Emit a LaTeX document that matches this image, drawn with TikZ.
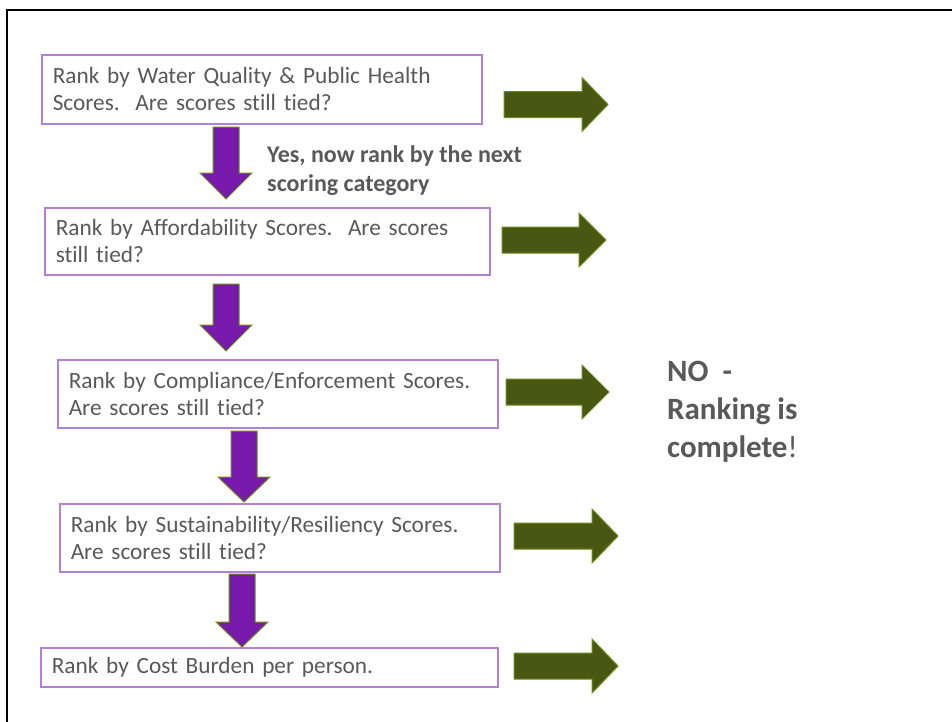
\documentclass[tikz,border=0pt]{standalone}
\usepackage{fontspec}
\setmainfont{Carlito}[Ligatures=NoCommon]
\definecolor{textgray}{HTML}{595959}
\definecolor{boxpurple}{HTML}{B280D6}
\definecolor{purplefill}{HTML}{7719AA}
\definecolor{arrowedge}{HTML}{6E8B1E}
\definecolor{greenfill}{HTML}{485712}
\newcommand{\mydownarrow}[4]{\draw[parrow] (#1-13,#2) -- (#1+13,#2) -- (#1+13,#3) -- (#1+26,#3) -- (#1,#4) -- (#1-26,#3) -- (#1-13,#3) -- cycle;}
\newcommand{\myrightarrow}[4]{\draw[garrow] (#1,#2-13) -- (#3,#2-13) -- (#3,#2-27) -- (#4,#2) -- (#3,#2+27) -- (#3,#2+13) -- (#1,#2+13) -- cycle;}
\begin{document}
\begin{tikzpicture}[x=1pt,y=-1pt,
  box/.style={draw=boxpurple, line width=1.5pt, anchor=north west, inner xsep=11pt, inner ysep=0pt,
    align=left, text=textgray, font=\fontsize{23.3}{27}\selectfont},
  parrow/.style={fill=purplefill, draw=arrowedge, line width=1pt, line join=miter},
  garrow/.style={fill=greenfill, draw=arrowedge, line width=1pt, line join=miter},
  note/.style={text=textgray, inner sep=0pt, align=left}]
\useasboundingbox (0,0) rectangle (952,721);
\fill[white] (0,0) rectangle (952,721);
\draw[line width=2.5pt] (7,10) rectangle (965,735);

\node[box, text width=418pt, minimum height=69pt] (b1) at (41,54)
  {Rank by Water Quality \& Public Health\\Scores.\ \ Are scores still tied?};
\node[box, text width=423pt, minimum height=67pt] (b2) at (44,207)
  {Rank by Affordability Scores.\ \ Are scores\\still tied?};
\node[box, text width=418pt, minimum height=68pt] (b3) at (57,359)
  {Rank by Compliance/Enforcement Scores.\\Are scores still tied?};
\node[box, text width=418pt, minimum height=68pt] (b4) at (59,503)
  {Rank by Sustainability/Resiliency Scores.\\Are scores still tied?};
\node[box, text width=435pt, minimum height=39pt] (b5) at (40,647)
  {Rank by Cost Burden per person.};

\mydownarrow{226}{127}{173}{199}
\mydownarrow{226}{284}{325}{351}
\mydownarrow{244}{431}{477}{502}
\mydownarrow{242}{574}{622}{647}

\myrightarrow{504}{104.5}{582}{608}
\myrightarrow{502}{240}{579}{606}
\myrightarrow{506}{392}{582}{609}
\myrightarrow{514}{536}{592}{618}
\myrightarrow{514}{666}{592}{618}

\node[note, anchor=base west, font=\bfseries\fontsize{24}{29}\selectfont] (yes) at (267,191)
  {Yes, now rank by the next\\scoring category};
\node[note, anchor=base west, font=\fontsize{31}{38}\selectfont] (no) at (667,457)
  {\textbf{NO\ \ -}\\\textbf{Ranking is}\\\textbf{complete}!};
\end{tikzpicture}
\end{document}
